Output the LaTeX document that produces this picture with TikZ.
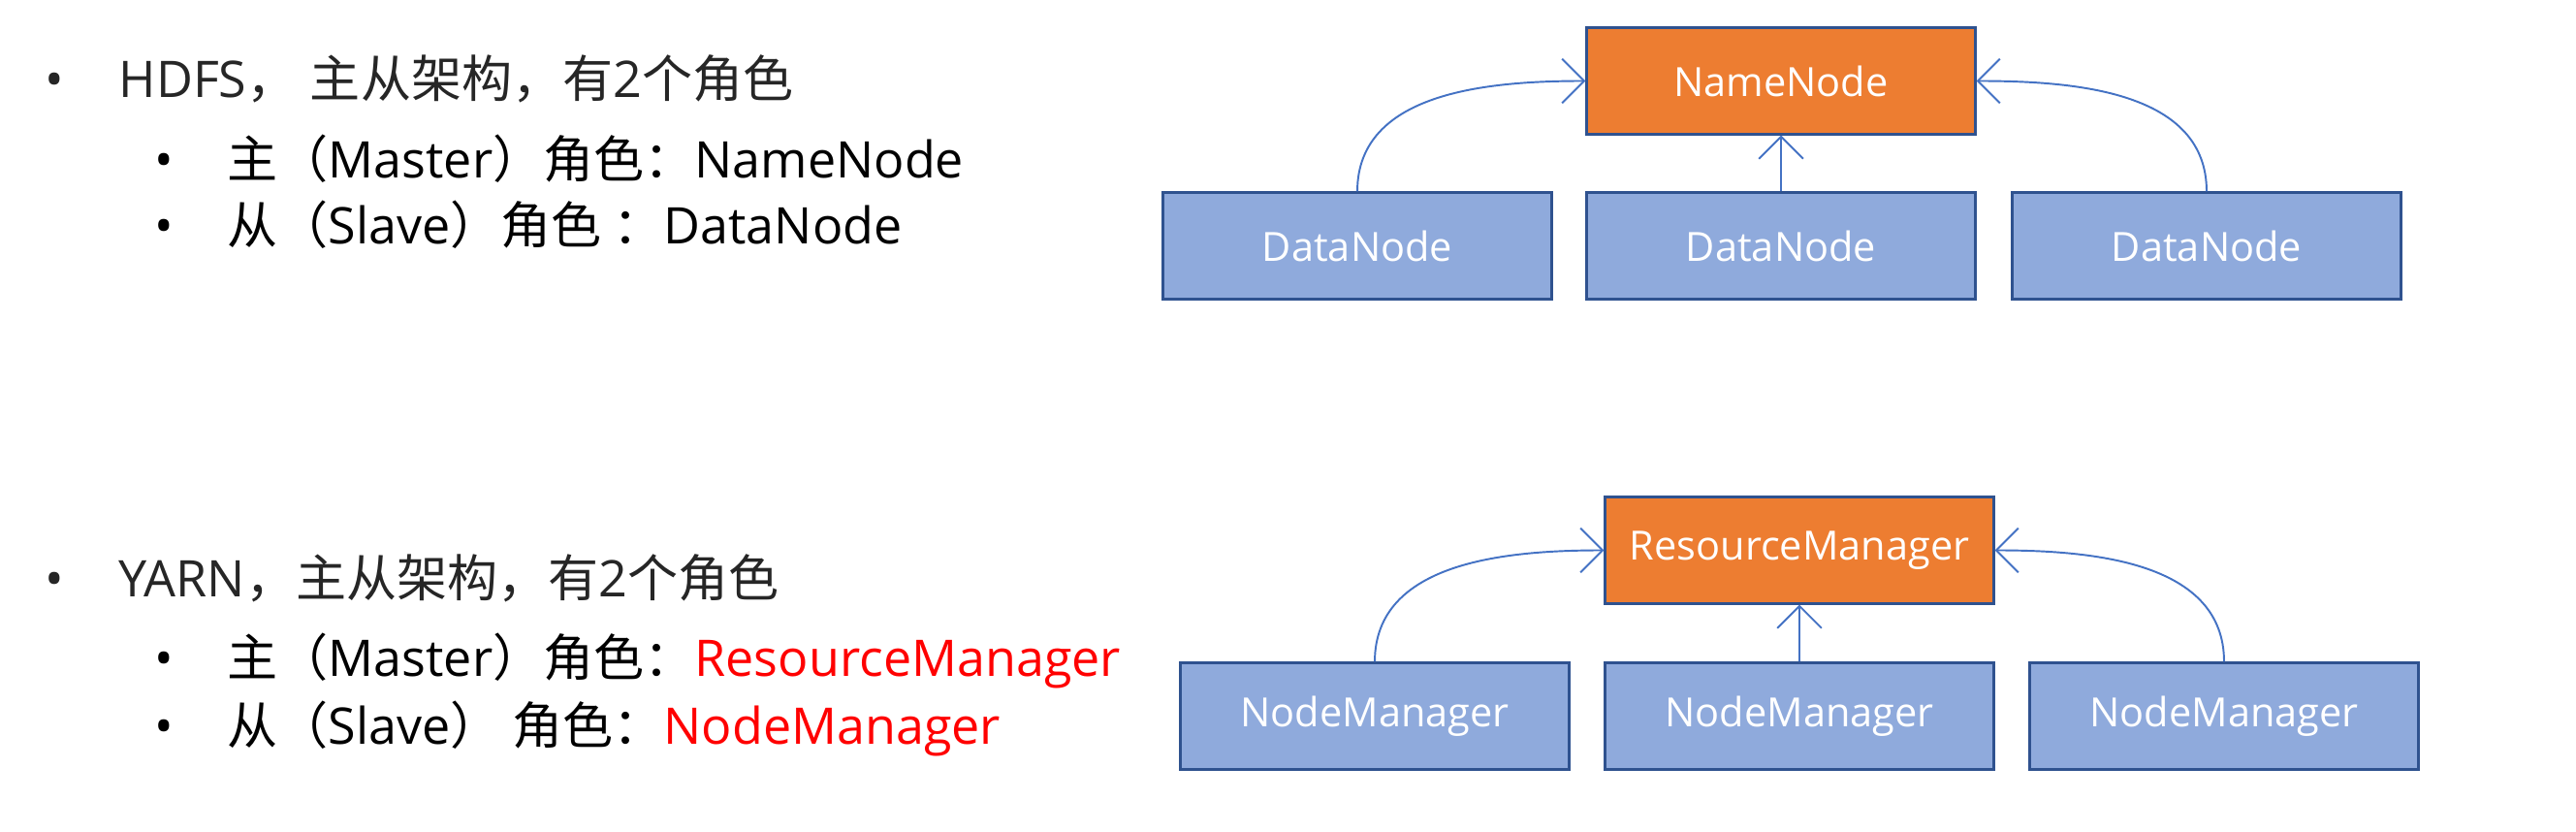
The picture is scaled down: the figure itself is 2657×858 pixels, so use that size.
\documentclass[tikz,border=0pt]{standalone}
\usepackage{fontspec}
\setmainfont{Open Sans}
\newfontfamily\cjk{Noto Sans CJK SC}
\usetikzlibrary{arrows.meta}
\definecolor{boxblue}{HTML}{8FAADC}
\definecolor{boxorange}{HTML}{ED7D31}
\definecolor{boxborder}{HTML}{2F528F}
\definecolor{arrowblue}{HTML}{4472C4}
\definecolor{txtgray}{HTML}{262626}
\definecolor{txtred}{HTML}{FF0000}
\begin{document}
\begin{tikzpicture}[x=0.01cm,y=-0.01cm,
  box/.style={draw=boxborder, line width=0.85pt, minimum width=4cm, minimum height=1.09cm, inner sep=0pt, text=white, font=\fontsize{11.8}{14}\selectfont},
  slave/.style={box, fill=boxblue},
  master/.style={box, fill=boxorange},
  link/.style={draw=arrowblue, line width=0.55pt, -{Straight Barb[length=6.5pt,width=13pt]}},
  bl/.style={anchor=base west, inner sep=0pt, font=\fontsize{14.8}{18}\selectfont},
  dot/.style={anchor=base, inner sep=0pt, font=\fontsize{14.8}{18}\selectfont},
]
\fill[white] (0,0) rectangle (2657,858);
\useasboundingbox (0,0) rectangle (2657,858);

% HDFS diagram
\node[master] (nn) at (1837,83.5) {NameNode};
\node[slave] (dn1) at (1400,253.5) {DataNode};
\node[slave] (dn2) at (1837,253.5) {DataNode};
\node[slave] (dn3) at (2276,253.5) {DataNode};
\draw[link] (dn1.north) to[out=90,in=180] (nn.west);
\draw[link] (dn2.north) -- (nn.south);
\draw[link] (dn3.north) to[out=90,in=0] (nn.east);

% YARN diagram
\node[master] (rm) at (1856,567.5) {ResourceManager};
\node[slave] (nm1) at (1418,738.5) {NodeManager};
\node[slave] (nm2) at (1856,738.5) {NodeManager};
\node[slave] (nm3) at (2294,738.5) {NodeManager};
\draw[link] (nm1.north) to[out=90,in=180] (rm.west);
\draw[link] (nm2.north) -- (rm.south);
\draw[link] (nm3.north) to[out=90,in=0] (rm.east);

% Text
\node[dot, text=txtgray] (d1) at (56,101) {•};
\node[bl, text=txtgray] (l1) at (122,101) {HDFS{\cjk ，} {\cjk 主从架构，有}2{\cjk 个角色}};
\node[dot] (d2) at (169,184) {•};
\node[bl] (l2) at (234,184) {{\cjk 主（}Master{\cjk ）角色：}NameNode};
\node[dot] (d3) at (169,252) {•};
\node[bl] (l3) at (234,252) {{\cjk 从（}Slave{\cjk ）角色 ：}DataNode};

\node[dot, text=txtgray] (d4) at (56,616) {•};
\node[bl, text=txtgray] (l4) at (122,616) {YARN{\cjk ，主从架构，有}2{\cjk 个角色}};
\node[dot] (d5) at (169,697) {•};
\node[bl] (l5) at (234,697) {{\cjk 主（}Master{\cjk ）角色：}{\color{txtred}ResourceManager}};
\node[dot] (d6) at (169,767) {•};
\node[bl] (l6) at (234,767) {{\cjk 从（}Slave{\cjk ） 角色：}{\color{txtred}NodeManager}};
\end{tikzpicture}
\end{document}
